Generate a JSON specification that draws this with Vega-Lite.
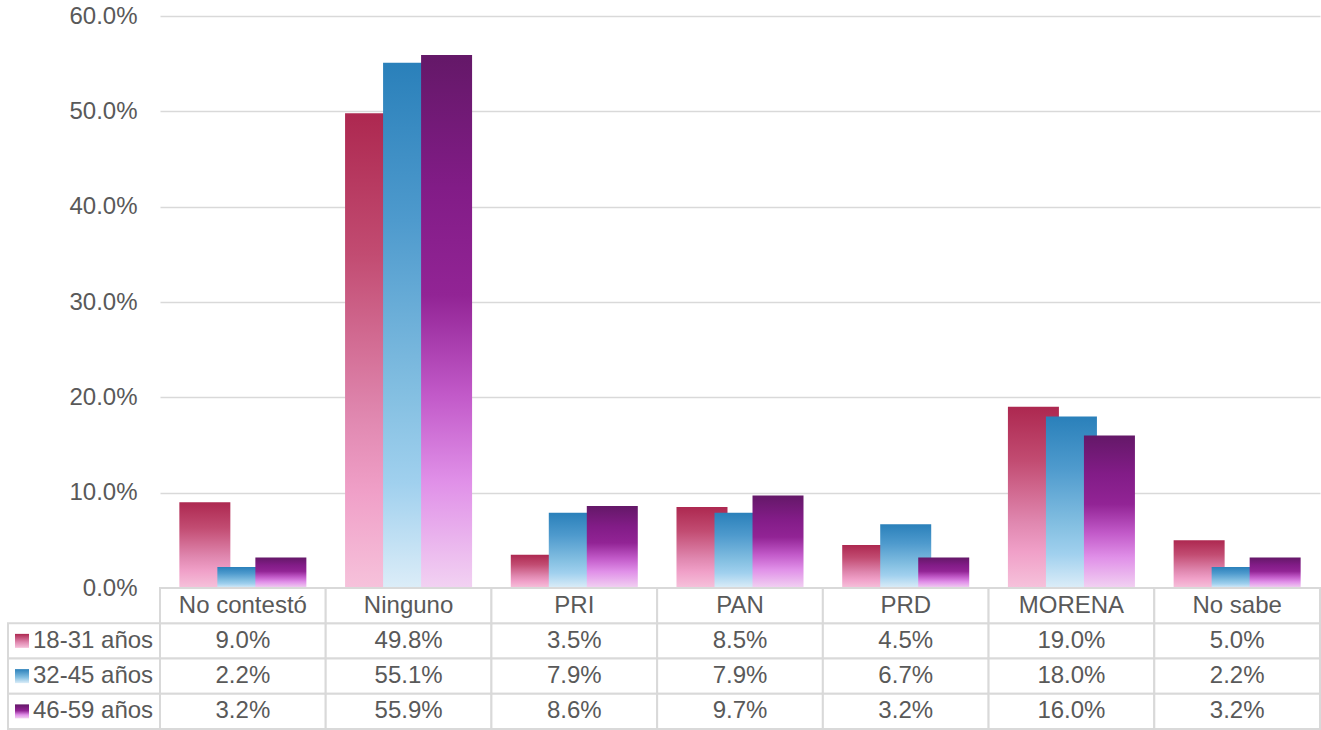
{
  "$schema": "https://vega.github.io/schema/vega-lite/v6.json",
  "background": "white",
  "autosize": {"type": "pad"},
  "padding": {"left": 7, "top": 4, "right": 0, "bottom": 0},
  "config": {
    "view": {"stroke": null},
    "font": "Liberation Sans",
    "text": {"font": "Liberation Sans"}
  },
  "datasets": {
    "votos": [
      {"partido": "No contestó", "grupo": "18-31 años", "valor": 0.090},
      {"partido": "No contestó", "grupo": "32-45 años", "valor": 0.022},
      {"partido": "No contestó", "grupo": "46-59 años", "valor": 0.032},
      {"partido": "Ninguno", "grupo": "18-31 años", "valor": 0.498},
      {"partido": "Ninguno", "grupo": "32-45 años", "valor": 0.551},
      {"partido": "Ninguno", "grupo": "46-59 años", "valor": 0.559},
      {"partido": "PRI", "grupo": "18-31 años", "valor": 0.035},
      {"partido": "PRI", "grupo": "32-45 años", "valor": 0.079},
      {"partido": "PRI", "grupo": "46-59 años", "valor": 0.086},
      {"partido": "PAN", "grupo": "18-31 años", "valor": 0.085},
      {"partido": "PAN", "grupo": "32-45 años", "valor": 0.079},
      {"partido": "PAN", "grupo": "46-59 años", "valor": 0.097},
      {"partido": "PRD", "grupo": "18-31 años", "valor": 0.045},
      {"partido": "PRD", "grupo": "32-45 años", "valor": 0.067},
      {"partido": "PRD", "grupo": "46-59 años", "valor": 0.032},
      {"partido": "MORENA", "grupo": "18-31 años", "valor": 0.190},
      {"partido": "MORENA", "grupo": "32-45 años", "valor": 0.180},
      {"partido": "MORENA", "grupo": "46-59 años", "valor": 0.160},
      {"partido": "No sabe", "grupo": "18-31 años", "valor": 0.050},
      {"partido": "No sabe", "grupo": "32-45 años", "valor": 0.022},
      {"partido": "No sabe", "grupo": "46-59 años", "valor": 0.032}
    ]
  },
  "data": {"name": "votos"},
  "columns": 2,
  "spacing": 0,
  "bounds": "flush",
  "align": "each",
  "concat": [
    {
      "width": 152,
      "height": 572,
      "transform": [{"filter": "false"}],
      "mark": {"type": "point", "opacity": 0},
      "encoding": {}
    },
    {
      "width": 1160,
      "height": 572,
      "encoding": {
        "x": {
          "field": "partido", "type": "nominal",
          "scale": {"domain": ["No contestó", "Ninguno", "PRI", "PAN", "PRD", "MORENA", "No sabe"], "paddingInner": 0, "paddingOuter": 0},
          "axis": null
        },
        "xOffset": {
          "field": "grupo", "type": "nominal",
          "scale": {"domain": ["18-31 años", "32-45 años", "46-59 años"], "paddingInner": 0, "paddingOuter": 0.68}
        },
        "y": {
          "field": "valor", "type": "quantitative",
          "scale": {"domain": [0, 0.6], "nice": false},
          "axis": {
            "title": null,
            "values": [0, 0.1, 0.2, 0.3, 0.4, 0.5, 0.6],
            "format": ".1%",
            "domain": false,
            "ticks": false,
            "labelFontSize": 24,
            "labelColor": "#595959",
            "labelPadding": 23,
            "gridColor": "#d9d9d9",
            "gridWidth": 1.5
          }
        }
      },
      "layer": [
        {
          "transform": [{"filter": "datum.grupo === '18-31 años'"}],
          "mark": {"type": "bar", "width": 51, "color": {"gradient": "linear", "x1": 0, "y1": 0, "x2": 0, "y2": 1, "stops": [
            {"offset": 0, "color": "#ad2850"}, {"offset": 0.3, "color": "#c24c72"}, {"offset": 0.64, "color": "#e088b0"}, {"offset": 0.8, "color": "#f0a0c8"}, {"offset": 1, "color": "#f6c2db"}]}}
        },
        {
          "transform": [{"filter": "datum.grupo === '32-45 años'"}],
          "mark": {"type": "bar", "width": 51, "color": {"gradient": "linear", "x1": 0, "y1": 0, "x2": 0, "y2": 1, "stops": [
            {"offset": 0, "color": "#2a80ba"}, {"offset": 0.3, "color": "#4e9acd"}, {"offset": 0.64, "color": "#85c0e2"}, {"offset": 0.8, "color": "#a0d0ee"}, {"offset": 1, "color": "#dcedf8"}]}}
        },
        {
          "transform": [{"filter": "datum.grupo === '46-59 años'"}],
          "mark": {"type": "bar", "width": 51, "color": {"gradient": "linear", "x1": 0, "y1": 0, "x2": 0, "y2": 1, "stops": [
            {"offset": 0, "color": "#641868"}, {"offset": 0.25, "color": "#821c87"}, {"offset": 0.45, "color": "#922495"}, {"offset": 0.64, "color": "#c25ac9"}, {"offset": 0.8, "color": "#e090e8"}, {"offset": 1, "color": "#f2d2f2"}]}}
        }
      ]
    },
    {
      "width": 152,
      "height": 141,
      "transform": [{"filter": "datum.partido === 'No contestó'"}],
      "encoding": {
        "x": {"datum": "serie", "type": "nominal", "scale": {"paddingInner": 0, "paddingOuter": 0}, "axis": null},
        "y": {
          "field": "grupo", "type": "nominal",
          "scale": {"domain": ["encabezado", "18-31 años", "32-45 años", "46-59 años"], "paddingInner": 0, "paddingOuter": 0},
          "axis": null
        }
      },
      "layer": [
        {"mark": {"type": "rect", "fill": "white", "stroke": "#d9d9d9", "strokeWidth": 2}},
        {
          "mark": {"type": "text", "align": "left", "dx": -51, "fontSize": 24, "color": "#595959"},
          "encoding": {"text": {"field": "grupo", "type": "nominal"}}
        },
        {
          "transform": [{"filter": "datum.grupo === '18-31 años'"}],
          "mark": {"type": "square", "size": 196, "opacity": 1, "xOffset": -62, "color": {"gradient": "linear", "x1": 0, "y1": 0, "x2": 0, "y2": 1, "stops": [
            {"offset": 0, "color": "#ad2850"}, {"offset": 0.6, "color": "#e088b0"}, {"offset": 1, "color": "#f6c2db"}]}}
        },
        {
          "transform": [{"filter": "datum.grupo === '32-45 años'"}],
          "mark": {"type": "square", "size": 196, "opacity": 1, "xOffset": -62, "color": {"gradient": "linear", "x1": 0, "y1": 0, "x2": 0, "y2": 1, "stops": [
            {"offset": 0, "color": "#2a80ba"}, {"offset": 0.6, "color": "#85c0e2"}, {"offset": 1, "color": "#dcedf8"}]}}
        },
        {
          "transform": [{"filter": "datum.grupo === '46-59 años'"}],
          "mark": {"type": "square", "size": 196, "opacity": 1, "xOffset": -62, "color": {"gradient": "linear", "x1": 0, "y1": 0, "x2": 0, "y2": 1, "stops": [
            {"offset": 0, "color": "#641868"}, {"offset": 0.45, "color": "#922495"}, {"offset": 0.75, "color": "#e090e8"}, {"offset": 1, "color": "#f2d2f2"}]}}
        }
      ]
    },
    {
      "width": 1160,
      "height": 141,
      "encoding": {
        "x": {
          "field": "partido", "type": "nominal",
          "scale": {"domain": ["No contestó", "Ninguno", "PRI", "PAN", "PRD", "MORENA", "No sabe"], "paddingInner": 0, "paddingOuter": 0},
          "axis": null
        }
      },
      "layer": [
        {
          "mark": {"type": "rect", "fill": "white", "stroke": "#d9d9d9", "strokeWidth": 2},
          "encoding": {
            "y": {
              "field": "grupo", "type": "nominal",
              "scale": {"domain": ["encabezado", "18-31 años", "32-45 años", "46-59 años"], "paddingInner": 0, "paddingOuter": 0},
              "axis": null
            }
          }
        },
        {
          "transform": [{"filter": "datum.grupo === '18-31 años'"}],
          "mark": {"type": "rect", "fill": "white", "stroke": "#d9d9d9", "strokeWidth": 2},
          "encoding": {"y": {"datum": "encabezado", "type": "nominal"}}
        },
        {
          "mark": {"type": "text", "fontSize": 24, "color": "#595959"},
          "encoding": {
            "y": {"field": "grupo", "type": "nominal"},
            "text": {"field": "valor", "type": "quantitative", "format": ".1%"}
          }
        },
        {
          "transform": [{"filter": "datum.grupo === '18-31 años'"}],
          "mark": {"type": "text", "fontSize": 24, "color": "#595959"},
          "encoding": {
            "y": {"datum": "encabezado", "type": "nominal"},
            "text": {"field": "partido", "type": "nominal"}
          }
        }
      ]
    }
  ]
}
